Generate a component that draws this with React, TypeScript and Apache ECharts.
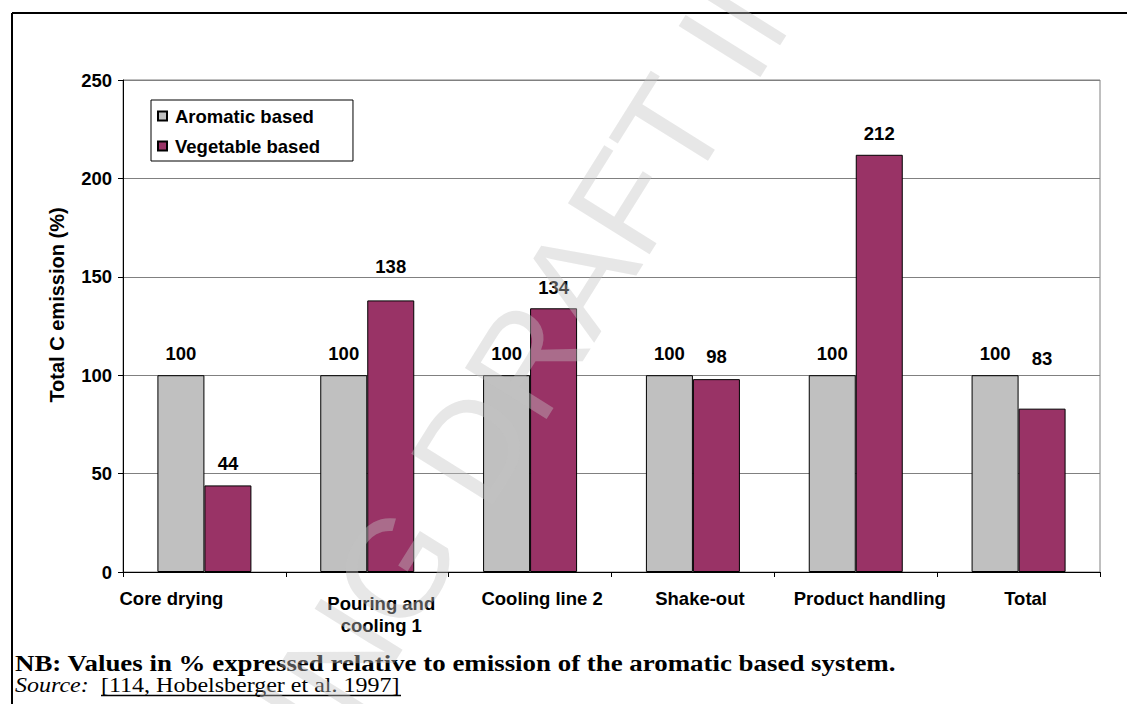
import React, { useEffect, useRef } from 'react';
import * as echarts from 'echarts';

// ---- data ----
const categories = ['Core drying', 'Pouring and\ncooling 1', 'Cooling line 2', 'Shake-out', 'Product handling', 'Total'];
const seriesNames = ['Aromatic based', 'Vegetable based'];
const aromaticBased = [100, 100, 100, 100, 100, 100];
const vegetableBased = [44, 138, 134, 98, 212, 83];
const yMin = 0;
const yMax = 250;
const yInterval = 50;
const yAxisTitle = 'Total C emission (%)';
const noteText = 'NB: Values in % expressed relative to emission of the aromatic based system.';
const sourceLabel = 'Source:';
const sourceRef = '[114, Hobelsberger et al. 1997]';
const watermarkText = 'WORKING DRAFT IN PROGRESS';

// ---- styling (not data) ----
const categoryLabelShift = [-33, 14, 12, 7, 14, 7];
const aromaticLabelDistance = [12, 12, 12, 12, 12, 12];
const vegetableLabelDistance = [12, 24, 11, 13, 12, 41];

const SANS = '"Liberation Sans", Arial, sans-serif';
const SERIF = '"Liberation Serif", "Times New Roman", serif';

export default function App() {
  const ref = useRef<HTMLDivElement>(null);

  useEffect(() => {
    if (!ref.current) return;
    const chart = echarts.init(ref.current, undefined, { renderer: 'svg' });

    const xData = categories.map((c, i) => {
      const s = categoryLabelShift[i];
      const pad = s >= 0 ? [0, 0, 0, 2 * s] : [0, -2 * s, 0, 0];
      if (c.includes('\n')) {
        return { value: c, textStyle: { padding: [4, pad[1], 0, pad[3]], lineHeight: 22 } };
      }
      return { value: c, textStyle: { padding: pad } };
    });

    const labelBase = {
      show: true,
      position: 'top',
      color: '#000',
      fontFamily: SANS,
      fontWeight: 'bold',
      fontSize: 18.5,
    };

    const option: any = {
      animation: false,
      backgroundColor: '#fff',
      grid: {
        left: 123,
        top: 80,
        right: 27,
        bottom: 132,
        show: true,
        borderColor: '#808080',
        borderWidth: 1,
        backgroundColor: 'transparent',
      },
      legend: {
        orient: 'vertical',
        left: 151,
        top: 100,
        data: seriesNames,
        icon: 'rect',
        itemWidth: 9,
        itemHeight: 9,
        itemGap: 10,
        padding: [6, 33, 5, 6],
        borderColor: '#000',
        borderWidth: 1,
        backgroundColor: '#fff',
        textStyle: {
          color: '#000',
          fontFamily: SANS,
          fontWeight: 'bold',
          fontSize: 18.5,
          lineHeight: 20,
          padding: [0, 0, 0, 3],
        },
      },
      xAxis: {
        type: 'category',
        data: xData,
        axisLine: { lineStyle: { color: '#000', width: 1 } },
        axisTick: { show: true, length: 5, lineStyle: { color: '#000' } },
        axisLabel: {
          interval: 0,
          margin: 16,
          color: '#000',
          fontFamily: SANS,
          fontWeight: 'bold',
          fontSize: 18.5,
          lineHeight: 20,
          verticalAlign: 'top',
        },
        splitLine: { show: false },
      },
      yAxis: {
        type: 'value',
        min: yMin,
        max: yMax,
        interval: yInterval,
        axisLine: { show: true, lineStyle: { color: '#000', width: 1 } },
        axisTick: { show: true, length: 5, lineStyle: { color: '#000' } },
        axisLabel: {
          margin: 11,
          color: '#000',
          fontFamily: SANS,
          fontWeight: 'bold',
          fontSize: 18.5,
        },
        splitLine: { show: true, lineStyle: { color: '#808080', width: 1 } },
      },
      series: [
        {
          name: seriesNames[0],
          type: 'bar',
          barWidth: 47,
          barGap: '0%',
          itemStyle: { color: '#C0C0C0', borderColor: '#000', borderWidth: 1 },
          label: labelBase,
          data: aromaticBased.map((v, i) => ({ value: v, label: { distance: aromaticLabelDistance[i] } })),
        },
        {
          name: seriesNames[1],
          type: 'bar',
          barWidth: 47,
          barGap: '0%',
          itemStyle: { color: '#993366', borderColor: '#000', borderWidth: 1 },
          label: labelBase,
          data: vegetableBased.map((v, i) => ({ value: v, label: { distance: vegetableLabelDistance[i] } })),
        },
      ],
      graphic: [
        { type: 'line', shape: { x1: 12, y1: 13, x2: 1127, y2: 13 }, style: { stroke: '#000', lineWidth: 2 } },
        { type: 'line', shape: { x1: 12, y1: 13, x2: 12, y2: 704 }, style: { stroke: '#000', lineWidth: 2 } },
        {
          type: 'text',
          x: 57,
          y: 305,
          rotation: Math.PI / 2,
          style: {
            text: yAxisTitle,
            font: `bold 20px ${SANS}`,
            fill: '#000',
            align: 'center',
            verticalAlign: 'middle',
          },
        },
        {
          type: 'text',
          x: 15,
          y: 663,
          scaleX: 1.185,
          style: {
            text: noteText,
            font: `bold 22.7px ${SERIF}`,
            fill: '#000',
            align: 'left',
            verticalAlign: 'middle',
          },
        },
        {
          type: 'text',
          x: 15,
          y: 685.5,
          scaleX: 1.2,
          style: {
            text: sourceLabel,
            font: `italic 20px ${SERIF}`,
            fill: '#000',
            align: 'left',
            verticalAlign: 'middle',
          },
        },
        {
          type: 'text',
          x: 101,
          y: 685.5,
          scaleX: 1.2,
          style: {
            text: sourceRef,
            font: `20px ${SERIF}`,
            fill: '#000',
            align: 'left',
            verticalAlign: 'middle',
          },
        },
        { type: 'line', shape: { x1: 101, y1: 695.5, x2: 401, y2: 695.5 }, style: { stroke: '#000', lineWidth: 1.5 } },
        {
          type: 'text',
          x: 645,
          y: 170,
          z: 100,
          rotation: (58 * Math.PI) / 180,
          style: {
            text: watermarkText,
            font: `140px ${SANS}`,
            fill: 'rgba(195,195,195,0.4)',
            align: 'center',
            verticalAlign: 'middle',
          },
        },
      ],
    };

    chart.setOption(option);
    return () => chart.dispose();
  }, []);

  return (
    <div
      ref={ref}
      style={{ position: 'fixed', left: 0, top: 0, width: 1127, height: 704, background: '#fff' }}
    />
  );
}
